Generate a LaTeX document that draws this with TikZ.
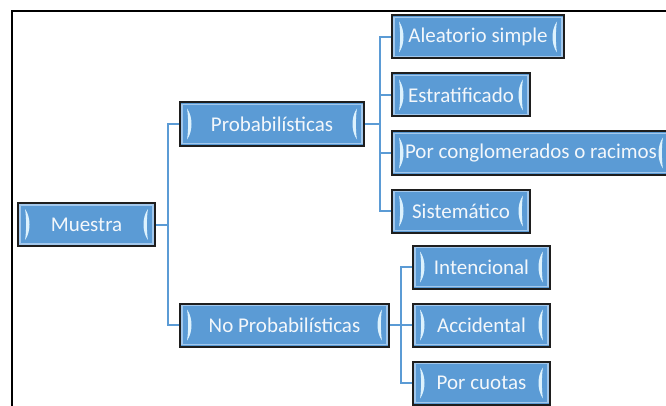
\documentclass[tikz,border=0pt]{standalone}
\usepackage{fontspec}
\setmainfont{Carlito}
\definecolor{azul}{HTML}{5B9BD5}
\definecolor{claro}{HTML}{DDF2FD}
\definecolor{bisel}{HTML}{A3C8EC}
\definecolor{borde}{HTML}{1E1E1E}
\definecolor{letra}{HTML}{F3F7FB}
\tikzstyle{caja} = [draw=borde, line width=2pt, fill=azul, minimum height=43pt,
  inner sep=0pt, anchor=west, text=letra, font=\fontsize{21}{25}\selectfont,
  path picture={
    \draw[bisel, line width=1.2pt] ([shift={(2,-2)}]path picture bounding box.north west)
      rectangle ([shift={(-2,2)}]path picture bounding box.south east);
    \fill[claro] ([shift={(7,-6)}]path picture bounding box.north west)
      .. controls ++(6,-8) and ++(6,8) .. ([shift={(7,6)}]path picture bounding box.south west)
      .. controls ++(1.5,8) and ++(1.5,-8) .. cycle;
    \fill[claro] ([shift={(-7,-6)}]path picture bounding box.north east)
      .. controls ++(-6,-8) and ++(-6,8) .. ([shift={(-7,6)}]path picture bounding box.south east)
      .. controls ++(-1.5,8) and ++(-1.5,-8) .. cycle;
  }]
\tikzstyle{lejos} = [level distance=127.5pt]

\begin{document}
\begin{tikzpicture}[grow'=right, x=1pt, y=1pt,
  level 1/.style={sibling distance=201pt, level distance=92.5pt},
  level 2/.style={sibling distance=58pt, level distance=119pt},
  edge from parent/.style={draw=azul, line width=2pt},
  edge from parent path={(\tikzchildnode.west) -- ++(-11,0) |- (\tikzparentnode.east)}]
	\useasboundingbox (0,0) rectangle (666,405);
	\draw[line width=2.2pt] (12,-5) |- (680,394);
	\node[caja, minimum width=137pt] (muestra) at (17,180.5) {Muestra}
	child {
		node[caja, minimum width=184pt] (prob) {Probabilísticas}
		child {node[caja, minimum width=172pt] (aleatorio) {Aleatorio simple}}
		child {node[caja, minimum width=138pt] (estrat) {Estratificado}}
		child {node[caja, minimum width=278pt] (conglo) {Por conglomerados o racimos}}
		child {node[caja, minimum width=138pt] (sistem) {Sistemático}}
	}
	child {
		node[caja, minimum width=209pt] (noprob) {No Probabilísticas}
		child[lejos] {node[caja, minimum width=137pt] (intenc) {Intencional}}
		child[lejos] {node[caja, minimum width=137pt] (accid) {Accidental}}
		child[lejos] {node[caja, minimum width=137pt] (cuotas) {Por cuotas}}
	};
\end{tikzpicture}
\end{document}
